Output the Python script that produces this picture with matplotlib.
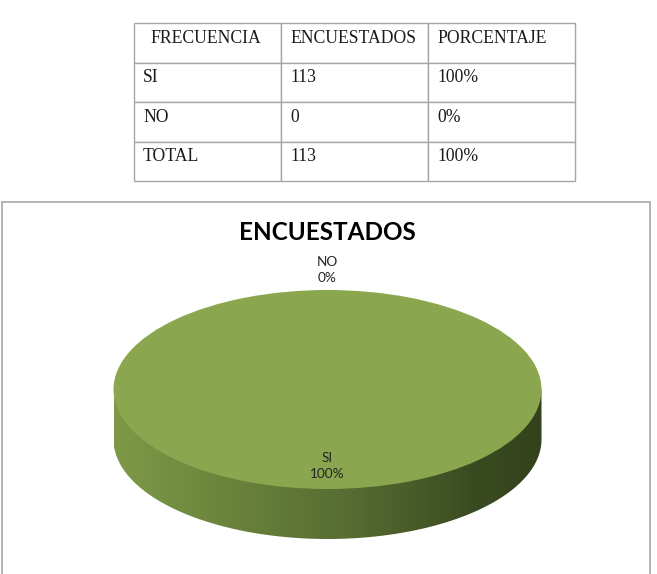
import numpy as np
import matplotlib
matplotlib.use("Agg")
import matplotlib.pyplot as plt
from matplotlib.colors import LinearSegmentedColormap
from matplotlib.patches import Polygon

# data
table_header = ["FRECUENCIA", "ENCUESTADOS", "PORCENTAJE"]
categories = ["SI", "NO"]
respondents = [113, 0]
total_label = "TOTAL"
chart_title = "ENCUESTADOS"

W, H = 657, 574
fig = plt.figure(figsize=(W / 100, H / 100), dpi=100)
fig.patch.set_facecolor("white")


def fx(px):
    return px / W


def fy(py):
    return 1 - py / H


# ---- table at the top ----
total = sum(respondents)
pcts = [round(100 * v / total) for v in respondents]
rows = [[c, str(v), f"{p}%"] for c, v, p in zip(categories, respondents, pcts)]
rows.append([total_label, str(total), f"{round(100 * total / total)}%"])

tx0, tx1, ty0, ty1 = 134, 575, 23, 181
tax = fig.add_axes([fx(tx0), fy(ty1), fx(tx1 - tx0), (ty1 - ty0) / H])
tax.axis("off")
tbl = tax.table(cellText=rows, colLabels=table_header, cellLoc="left",
                colLoc="left", bbox=[0, 0, 1, 1])
tbl.auto_set_font_size(False)
tbl.set_fontsize(12.7)
for (r, c), cell in tbl.get_celld().items():
    cell.set_edgecolor("#a6a6a6")
    cell.set_linewidth(1.0)
    cell.PAD = 0.062
    txt = cell.get_text()
    txt.set_fontfamily("Liberation Serif")
    txt.set_color("#1a1a1a")
    txt.set_verticalalignment("baseline")
    if r == 0 and c == 0:
        cell.PAD = 0.11

# ---- chart frame ----
bx0, bx1, by0 = 2, 650, 202
fig.add_artist(plt.Line2D([fx(bx0), fx(bx0)], [0, fy(by0)], color="#b0b0b0", lw=1.3))
fig.add_artist(plt.Line2D([fx(bx1), fx(bx1)], [0, fy(by0)], color="#b0b0b0", lw=1.3))
fig.add_artist(plt.Line2D([fx(bx0), fx(bx1)], [fy(by0), fy(by0)], color="#b0b0b0", lw=1.3))

fig.text(fx(327), fy(233), chart_title, ha="center", va="center",
         fontsize=17.5, fontweight="bold", family=["Lato", "DejaVu Sans"],
         color="#000000")

# ---- 3D-looking pie ----
CX, CY, RX, RY, DEPTH = 327.5, 389.5, 214, 99.5, 50
ax = fig.add_axes([0, 0, 1, 1])
ax.axis("off")

top_color = "#8aa64f"
wedges, _ = ax.pie(respondents, startangle=90, counterclock=False,
                   colors=[top_color, top_color],
                   wedgeprops=dict(linewidth=0), radius=1)
ax.set_aspect("auto")

# side wall of the pie (front half, shifted down by the depth)
d = DEPTH / RY
t = np.linspace(np.pi, 2 * np.pi, 200)
side_pts = np.column_stack([np.cos(t), np.sin(t) - d])
side_pts = np.vstack([[-1, 0], side_pts, [1, 0]])
side = Polygon(side_pts, closed=True, facecolor="none", edgecolor="none")
ax.add_patch(side)
side_cmap = LinearSegmentedColormap.from_list(
    "side", [(0.0, "#7d9947"), (0.25, "#6c853d"), (0.55, "#566c32"),
             (0.85, "#3a4a20"), (1.0, "#33421c")])
grad = np.linspace(0, 1, 256).reshape(1, -1)
img = ax.imshow(grad, cmap=side_cmap, extent=[-1, 1, -1 - d, 0],
                aspect="auto", zorder=0.5, interpolation="bilinear")
img.set_clip_path(side)
for w in wedges:
    w.set_zorder(1)
ax.set_xlim((0 - CX) / RX, (W - CX) / RX)
ax.set_ylim((CY - H) / RY, CY / RY)

# data labels
label_dist = {"SI": 0.77, "NO": 1.2}
for w, name, p in zip(wedges, categories, pcts):
    mid = np.deg2rad((w.theta1 + w.theta2) / 2)
    r = label_dist[name]
    ax.text(r * np.cos(mid), r * np.sin(mid), f"{name}\n{p}%",
            ha="center", va="center", fontsize=9.8, linespacing=1.45,
            family=["Lato", "DejaVu Sans"], color="#262626", zorder=3)

fig.savefig("out.png", dpi=100, facecolor="white")
